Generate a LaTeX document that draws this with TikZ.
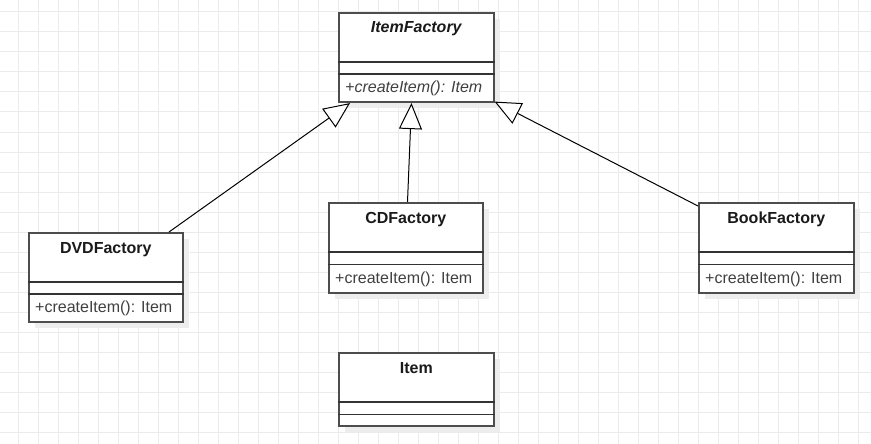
\documentclass[tikz,border=0pt]{standalone}
\usepackage{fontspec}
\setmainfont{Liberation Sans}
\usetikzlibrary{arrows.meta,calc}
\definecolor{gridc}{HTML}{EBEBEB}
\definecolor{shadowc}{HTML}{EDEDED}
\definecolor{borderc}{HTML}{4D4D4D}
\definecolor{txtc}{HTML}{1A1A1A}
\definecolor{methc}{HTML}{404040}
\begin{document}
\begin{tikzpicture}[x=1pt,y=-1pt,
  classbox/.style={draw=borderc, line width=1.6pt, fill=white, inner sep=0pt, anchor=north west},
  divider/.style={draw=black!80, line width=1.2pt},
  classtitle/.style={inner sep=0pt, anchor=base, text=txtc, font=\fontsize{16}{19}\selectfont\bfseries},
  classmeth/.style={inner sep=0pt, anchor=base west, text=methc, font=\fontsize{16}{19}\selectfont},
  inh/.style={draw=black, line width=1pt, -{Triangle[open, length=26pt, width=23pt, fill=white]}},
  shadowbox/.style={fill=shadowc}
]
\useasboundingbox (0,0) rectangle (871,444);
\fill[white] (0,0) rectangle (871,444);
\foreach \x in {18,38,...,858} \draw[gridc, line width=1pt] (\x,0) -- (\x,444);
\foreach \y in {12,32,...,432} \draw[gridc, line width=1pt] (0,\y) -- (871,\y);

% shadows
\fill[shadowbox] (345,19) rectangle +(155,89);
\fill[shadowbox] (35,239) rectangle +(154,89);
\fill[shadowbox] (335,209) rectangle +(154,90);
\fill[shadowbox] (705,209) rectangle +(155,90);
\fill[shadowbox] (345,359) rectangle +(155,73);

% ItemFactory
\node[classbox, minimum width=155pt, minimum height=89pt] (if) at (338,12) {};
\draw[divider] ($(if.north west)+(0,50)$) -- ($(if.north east)+(0,50)$);
\draw[divider] ($(if.north west)+(0,62)$) -- ($(if.north east)+(0,62)$);
\node[classtitle] (ift) at ($(if.north)+(0,21)$) {\itshape ItemFactory};
\node[classmeth] (ifm) at ($(if.north west)+(7,80.7)$) {\itshape +createItem(): Item};

% DVDFactory
\node[classbox, minimum width=154pt, minimum height=89pt] (dvd) at (28,232) {};
\draw[divider] ($(dvd.north west)+(0,50)$) -- ($(dvd.north east)+(0,50)$);
\draw[divider] ($(dvd.north west)+(0,62)$) -- ($(dvd.north east)+(0,62)$);
\node[classtitle] (dvdt) at ($(dvd.north)+(0,21)$) {DVDFactory};
\node[classmeth] (dvdm) at ($(dvd.north west)+(7,80.7)$) {+createItem(): Item};

% CDFactory
\node[classbox, minimum width=154pt, minimum height=90pt] (cd) at (328,202) {};
\draw[divider] ($(cd.north west)+(0,50)$) -- ($(cd.north east)+(0,50)$);
\draw[divider] ($(cd.north west)+(0,62.5)$) -- ($(cd.north east)+(0,62.5)$);
\node[classtitle] (cdt) at ($(cd.north)+(0,21)$) {CDFactory};
\node[classmeth] (cdm) at ($(cd.north west)+(7,81)$) {+createItem(): Item};

% BookFactory
\node[classbox, minimum width=155pt, minimum height=90pt] (book) at (698,202) {};
\draw[divider] ($(book.north west)+(0,50)$) -- ($(book.north east)+(0,50)$);
\draw[divider] ($(book.north west)+(0,62.5)$) -- ($(book.north east)+(0,62.5)$);
\node[classtitle] (bookt) at ($(book.north)+(0,21)$) {BookFactory};
\node[classmeth] (bookm) at ($(book.north west)+(7,81)$) {+createItem(): Item};

% Item
\node[classbox, minimum width=155pt, minimum height=73pt] (item) at (338,352) {};
\draw[divider] ($(item.north west)+(0,50)$) -- ($(item.north east)+(0,50)$);
\draw[divider] ($(item.north west)+(0,62.5)$) -- ($(item.north east)+(0,62.5)$);
\node[classtitle] (itemt) at ($(item.north)+(0,21)$) {Item};

% inheritance connectors
\draw[inh] ($(dvd.north west)+(141,0)$) -- ($(if.south west)+(12,0.5)$);
\draw[inh] ($(cd.north west)+(79.5,0)$) -- ($(if.south west)+(73.5,0.5)$);
\draw[inh] ($(book.north west)+(0,4)$) -- ($(if.south east)+(0,-1)$);
\end{tikzpicture}
\end{document}
